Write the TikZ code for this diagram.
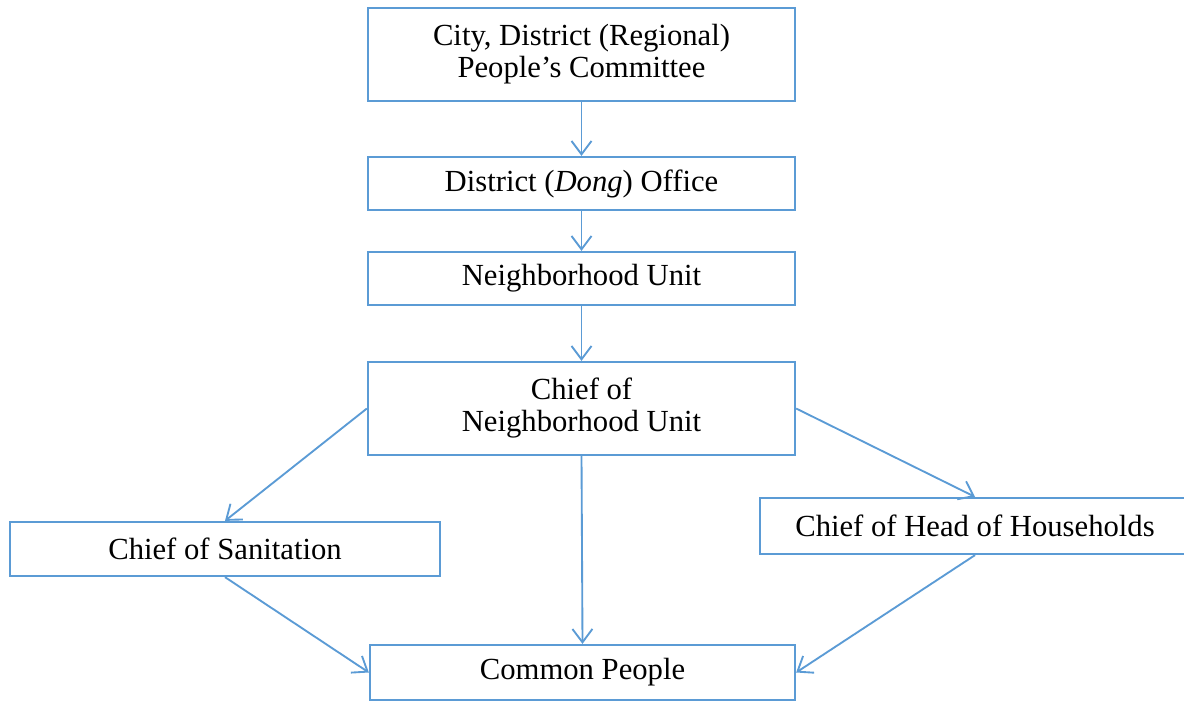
\documentclass[tikz,border=0pt]{standalone}
\usepackage{fontspec}
\setmainfont{Liberation Serif}
\usetikzlibrary{arrows.meta}
\definecolor{bl}{HTML}{5B9BD5}
\begin{document}
\begin{tikzpicture}[x=0.75pt,y=-0.75pt,
  box/.style={draw=bl,line width=1.7pt,fill=white,inner sep=0pt,align=center,
    font=\fontsize{23}{24}\selectfont,text=black},
  conn/.style={draw=bl,line width=1.4pt,-{Straight Barb[length=10pt,width=15pt,line width=1.4pt]}}]
\useasboundingbox (0,0) rectangle (1184,702);
\node[box,minimum width=320.25pt,minimum height=69.75pt] (top) at (581.5,54.5) {City, District (Regional)\\People's Committee};
\node[box,minimum width=320.25pt,minimum height=39.75pt] (dong) at (581.5,183.5) {District (\textit{Dong}) Office};
\node[box,minimum width=320.25pt,minimum height=39.75pt] (nu) at (581.5,278.5) {Neighborhood Unit};
\node[box,minimum width=320.25pt,minimum height=69.75pt] (chief) at (581.5,408.5) {Chief of\\Neighborhood Unit};
\node[box,minimum width=322.5pt,minimum height=40.5pt] (san) at (225,549) {Chief of Sanitation};
\node[box,minimum width=322.5pt,minimum height=42pt] (hoh) at (975,526) {Chief of Head of Households};
\node[box,minimum width=318.75pt,minimum height=41.25pt] (cp) at (582.5,672.5) {Common People};
\draw[conn] (top.south) -- (dong.north);
\draw[conn] (dong.south) -- (nu.north);
\draw[conn] (nu.south) -- (chief.north);
\draw[conn] (chief.south) -- (cp.north);
\draw[conn] (chief.west) -- (san.north);
\draw[conn] (chief.east) -- (hoh.north);
\draw[conn] (san.south) -- (cp.west);
\draw[conn] (hoh.south) -- (cp.east);
\end{tikzpicture}
\end{document}
